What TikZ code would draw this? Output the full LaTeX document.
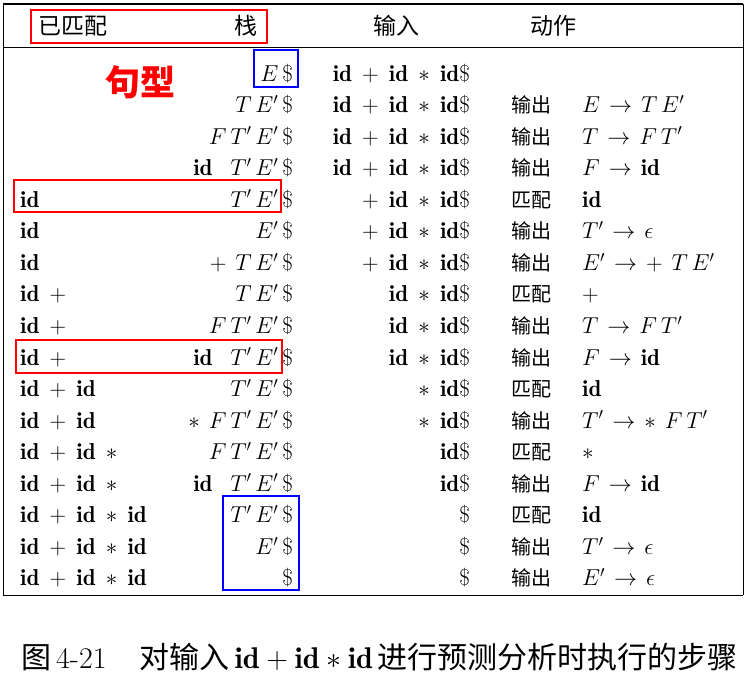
\RequirePackage{fix-cm}
\documentclass[tikz,border=0pt]{standalone}
\usepackage{fontspec}
\newfontfamily\cjk{Noto Sans CJK SC}
\usepackage{tikz}
\def\rowH{31.56}
\def\rowA{81}
\def\id{\mathbf{id}}
\def\fTab{\fontsize{23}{28}\selectfont\medmuskip=8mu\thickmuskip=7mu}
\def\fHead{\cjk\fontsize{23}{28}\selectfont}
\def\fAct{\cjk\fontsize{20}{24}\selectfont}
\tikzset{mat/.style={anchor=base west,inner sep=0,font=\fTab}}
\tikzset{stk/.style={anchor=base east,inner sep=0,font=\fTab}}
\tikzset{inp/.style={anchor=base east,inner sep=0,font=\fTab}}
\tikzset{act/.style={anchor=base west,inner sep=0,font=\fAct}}
\tikzset{prd/.style={anchor=base west,inner sep=0,font=\fTab}}
\tikzset{hd/.style={anchor=base,inner sep=0,font=\fHead}}
\tikzset{rbox/.style={draw=red,line width=1.6pt}}
\tikzset{bbox/.style={draw=blue,line width=1.6pt}}
\tikzset{rule/.style={black,line width=0.9pt}}

\begin{document}
\begin{tikzpicture}[x=1pt,y=-1pt]
\useasboundingbox (0,0) rectangle (746,675);
% frame
\draw[rule,line width=2pt] (3,4)--(743,4);
\draw[rule] (3,47)--(743,47);
\draw[rule] (3,595)--(743,595);
\draw[rule] (3,4)--(3,595);\draw[rule] (743,4)--(743,595);
% header
\node[hd,anchor=base west] (hMat) at (38,34) {已匹配};
\node[hd] (hStk) at (246,34) {栈};
\node[hd] (hInp) at (396,34) {输入};
\node[hd] (hAct) at (553,34) {动作};
% rows
\foreach \i/\m/\s/\n/\a/\p in {
 1/{}/{$E\,\$$}/{$\id+\id*\id\$$}/{}/{},
 2/{}/{$T\,E'\,\$$}/{$\id+\id*\id\$$}/输出/{$E\to T\,E'$},
 3/{}/{$F\,T'\,E'\,\$$}/{$\id+\id*\id\$$}/输出/{$T\to F\,T'$},
 4/{}/{$\id\;\;T'\,E'\,\$$}/{$\id+\id*\id\$$}/输出/{$F\to\id$},
 5/{$\id$}/{$T'\,E'\,\$$}/{${}+\id*\id\$$}/匹配/{$\id$},
 6/{$\id$}/{$E'\,\$$}/{${}+\id*\id\$$}/输出/{$T'\to\epsilon$},
 7/{$\id$}/{$+\;T\,E'\,\$$}/{${}+\id*\id\$$}/输出/{$E'\to+\;T\,E'$},
 8/{$\id+{}$}/{$T\,E'\,\$$}/{$\id*\id\$$}/匹配/{$+$},
 9/{$\id+{}$}/{$F\,T'\,E'\,\$$}/{$\id*\id\$$}/输出/{$T\to F\,T'$},
 10/{$\id+{}$}/{$\id\;\;T'\,E'\,\$$}/{$\id*\id\$$}/输出/{$F\to\id$},
 11/{$\id+\id$}/{$T'\,E'\,\$$}/{${}*\id\$$}/匹配/{$\id$},
 12/{$\id+\id$}/{$*\;F\,T'\,E'\,\$$}/{${}*\id\$$}/输出/{$T'\to*\;F\,T'$},
 13/{$\id+\id*{}$}/{$F\,T'\,E'\,\$$}/{$\id\$$}/匹配/{$*$},
 14/{$\id+\id*{}$}/{$\id\;\;T'\,E'\,\$$}/{$\id\$$}/输出/{$F\to\id$},
 15/{$\id+\id*\id$}/{$T'\,E'\,\$$}/{$\$$}/匹配/{$\id$},
 16/{$\id+\id*\id$}/{$E'\,\$$}/{$\$$}/输出/{$T'\to\epsilon$},
 17/{$\id+\id*\id$}/{$\$$}/{$\$$}/输出/{$E'\to\epsilon$}}{
 \node[mat] (m\i) at (20,{\rowA+(\i-1)*\rowH}) {\m};
 \node[stk] (s\i) at (293,{\rowA+(\i-1)*\rowH}) {\s};
 \node[inp] (n\i) at (470,{\rowA+(\i-1)*\rowH}) {\n};
 \node[act] (a\i) at (511,{\rowA+(\i-1)*\rowH}) {\a};
 \node[prd] (p\i) at (582,{\rowA+(\i-1)*\rowH}) {\p};
}
% marks
\node[text=red,font=\cjk\bfseries\fontsize{35}{40}\selectfont,inner sep=0] (jx) at (140,82) {句型};
\draw[rbox] (31,10) rectangle (267,43);
\draw[bbox] (254,50) rectangle (298,87);
\draw[rbox] (14,180) rectangle (281,212);
\draw[rbox] (16,340) rectangle (282,373);
\draw[bbox] (223,496) rectangle (299,590);
% caption
\node[anchor=base west,inner sep=0,font=\fontsize{30}{34}\selectfont] (cap) at (21,668)
 {{\cjk 图}\,4-21\hspace{1.1em}{\cjk 对输入}\,$\id+\id*\id$\,{\cjk 进行预测分析时执行的步骤}};
\end{tikzpicture}
\end{document}
